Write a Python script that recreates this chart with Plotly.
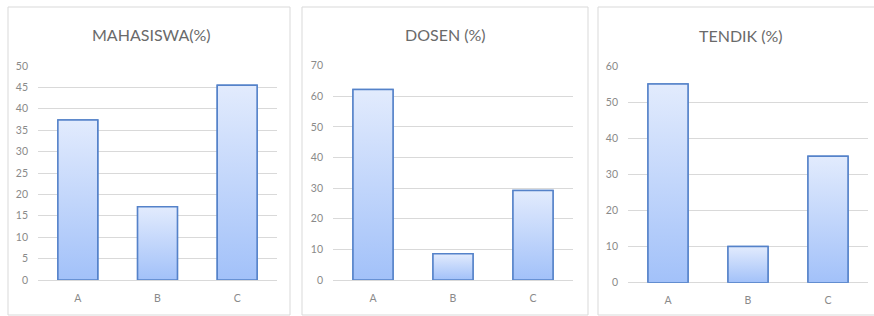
import plotly.graph_objects as go

categories = ["A", "B", "C"]
mahasiswa = [37.4, 17.1, 45.5]
dosen = [62.2, 8.6, 29.2]
tendik = [55.0, 10.0, 35.0]
titles = ["MAHASISWA(%)", "DOSEN (%)", "TENDIK (%)"]
y_max = [50, 70, 60]
y_step = [5, 10, 10]
series = [mahasiswa, dosen, tendik]

W, H = 874, 316
FONT = "Lato"
TXT = "#8a8a8a"
GRID = "#d9d9d9"
EDGE = "#5582c9"
BAR_W = 0.5

# plot areas in pixels: (x0, x1, ytop, ybottom)
areas = [(38, 277, 66, 280), (333, 573, 65.7, 280), (628, 868, 66, 282.7)]
panels = [(8, 290, 7, 315), (302, 588, 7, 315), (598, 880, 7, 315)]
title_pos = [(151, 34), (445, 34), (741, 36)]

fig = go.Figure()
layout = dict(
    template="none",
    width=W, height=H, margin=dict(l=0, r=0, t=0, b=0, autoexpand=False),
    paper_bgcolor="white", plot_bgcolor="white", showlegend=False,
    font=dict(family=FONT, color=TXT),
)
shapes = []
annotations = []
for k in range(3):
    xa = "x" if k == 0 else f"x{k+1}"
    ya = "y" if k == 0 else f"y{k+1}"
    vals = series[k]
    xs = list(range(len(categories)))
    fig.add_trace(go.Bar(
        x=xs, y=vals, width=BAR_W, xaxis=xa, yaxis=ya,
        marker=dict(color="#c3d6fa", line=dict(color=EDGE, width=1.5)),
        hoverinfo="skip",
    ))
    for i, v in zip(xs, vals):
        fig.add_trace(go.Scatter(
            x=[i - BAR_W / 2, i + BAR_W / 2, i + BAR_W / 2, i - BAR_W / 2, i - BAR_W / 2],
            y=[0, 0, v, v, 0], xaxis=xa, yaxis=ya, mode="lines", fill="toself",
            line=dict(color=EDGE, width=1.5),
            fillgradient=dict(type="vertical",
                              colorscale=[[0, "#a2c1f9"], [1, "#e2ebfd"]]),
            hoverinfo="skip",
        ))
    x0, x1, yt, yb = areas[k]
    ax_x = dict(domain=[x0 / W, x1 / W], range=[-0.5, 2.5], tickvals=xs,
                ticktext=categories, showgrid=False, zeroline=False, showline=False,
                ticks="", tickfont=dict(size=10.5, color=TXT, family=FONT),
                ticklabelstandoff=10, anchor=ya, fixedrange=True, automargin=False)
    ax_y = dict(domain=[1 - yb / H, 1 - yt / H], range=[0, y_max[k]],
                dtick=y_step[k], tick0=0, showgrid=True, gridcolor=GRID, gridwidth=1,
                zeroline=True, zerolinecolor=GRID, zerolinewidth=1, showline=False,
                ticks="", tickfont=dict(size=10.5, color=TXT, family=FONT),
                ticklabelstandoff=9, anchor=xa, fixedrange=True, automargin=False)
    layout["xaxis" if k == 0 else f"xaxis{k+1}"] = ax_x
    layout["yaxis" if k == 0 else f"yaxis{k+1}"] = ax_y
    px0, px1, py0, py1 = panels[k]
    shapes.append(dict(type="rect", xref="paper", yref="paper",
                       x0=px0 / W, x1=px1 / W, y0=1 - py1 / H, y1=1 - py0 / H,
                       line=dict(color="#d9d9d9", width=1), fillcolor="rgba(0,0,0,0)",
                       layer="below"))
    tx, ty = title_pos[k]
    annotations.append(dict(text=titles[k], xref="paper", yref="paper",
                            x=tx / W, y=1 - ty / H, xanchor="center", yanchor="middle",
                            showarrow=False,
                            font=dict(size=16, color="#6a6a6a", family=FONT)))

layout["shapes"] = shapes
layout["annotations"] = annotations
fig.update_layout(**layout)
fig.write_html("out.html", config={"displayModeBar": False, "staticPlot": True},
               post_script="document.body.style.margin='0';document.body.style.overflow='hidden';")
